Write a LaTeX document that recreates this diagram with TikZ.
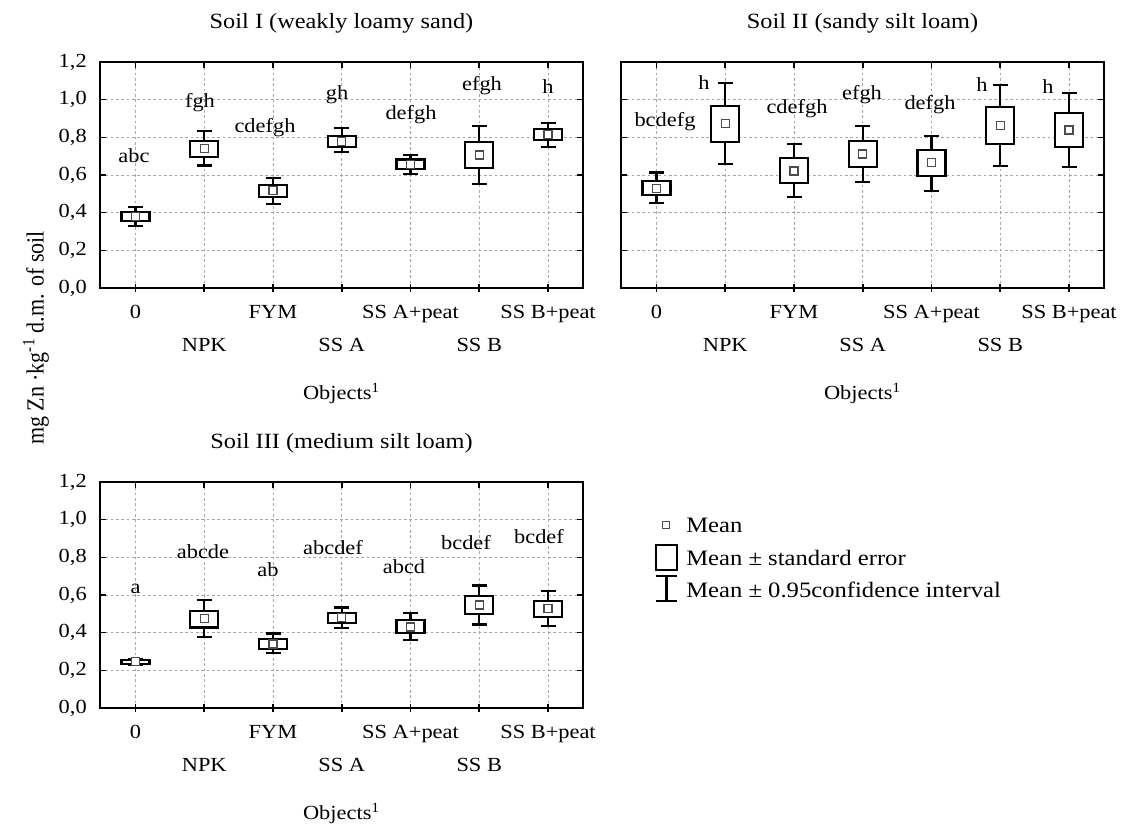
\documentclass[tikz,border=0pt]{standalone}
\usepackage{fontspec}
\setmainfont[FakeStretch=1.12]{Liberation Serif}
\newfontfamily\plainserif{Liberation Serif}
\tikzset{
  every node/.style={font=\fontsize{15}{18}\selectfont, inner sep=0pt},
  gridline/.style={draw=black!35, line width=0.5pt, dash pattern=on 2pt off 2pt},
  frameline/.style={draw=black, line width=1.6pt},
  tickline/.style={draw=black, line width=1.2pt},
  whisk/.style={draw=black, line width=1.7pt},
  boxline/.style={draw=black, line width=1.7pt, fill=white},
  meanmark/.style={draw=black!70, line width=0.9pt, fill=white},
  lettr/.style={anchor=base},
  xlab/.style={anchor=base},
  ylab/.style={anchor=east},
  ptitle/.style={anchor=base, font=\fontsize{16.3}{19}\selectfont},
  legtext/.style={anchor=west, font=\fontsize{16.5}{20}\selectfont},
}
\newcommand\panelframe[3]{% #1 left, #2 top, #3 show y labels (1/0)
  \foreach \i in {0,...,6} {
    \draw[gridline] ({#1+35.5+68.75*\i},#2) -- ({#1+35.5+68.75*\i},{#2+226});
    \draw[tickline] ({#1+35.5+68.75*\i},#2) -- ({#1+35.5+68.75*\i},{#2+6});
    \draw[tickline] ({#1+35.5+68.75*\i},{#2+226-4}) -- ({#1+35.5+68.75*\i},{#2+226+4});
  }
  \foreach \v in {1,...,5} {
    \draw[gridline] (#1,{#2+226-\v*37.667}) -- ({#1+483},{#2+226-\v*37.667});
    \draw[tickline] (#1,{#2+226-\v*37.667}) -- ({#1+6},{#2+226-\v*37.667});
    \draw[tickline] ({#1+483},{#2+226-\v*37.667}) -- ({#1+483-6},{#2+226-\v*37.667});
  }
  \draw[frameline] (#1,#2) rectangle ({#1+483},{#2+226});
  \ifnum#3=1
    \foreach \v/\t in {0/{0,0},1/{0,2},2/{0,4},3/{0,6},4/{0,8},5/{1,0},6/{1,2}}
      \node[ylab] at ({#1-13},{#2+226-\v*37.667}) {\t};
  \fi
}
% #1 base y (value 0), #2 x, #3 mean, #4 se lo, #5 se hi, #6 ci lo, #7 ci hi
\newcommand\bp[7]{%
  \draw[whisk] (#2,{#1-#5*188.33}) -- (#2,{#1-#7*188.33});
  \draw[whisk] ({#2-7.5},{#1-#7*188.33}) -- ({#2+7.5},{#1-#7*188.33});
  \draw[whisk] (#2,{#1-#4*188.33}) -- (#2,{#1-#6*188.33});
  \draw[whisk] ({#2-7.5},{#1-#6*188.33}) -- ({#2+7.5},{#1-#6*188.33});
  \draw[boxline] ({#2-14},{#1-#4*188.33}) rectangle ({#2+14},{#1-#5*188.33});
  \draw[meanmark] ({#2-4},{#1-#3*188.33-4}) rectangle ({#2+4},{#1-#3*188.33+4});
}
\newcommand\xlabels[3]{% #1 left, #2 top, #3 name prefix
  \node[xlab] (#3x0) at ({#1+35.5},{#2+256}) {0};
  \node[xlab] (#3x1) at ({#1+35.5+68.75},{#2+289}) {NPK};
  \node[xlab] (#3x2) at ({#1+35.5+2*68.75},{#2+256}) {FYM};
  \node[xlab] (#3x3) at ({#1+35.5+3*68.75},{#2+289}) {SS A};
  \node[xlab] (#3x4) at ({#1+35.5+4*68.75},{#2+256}) {SS A+peat};
  \node[xlab] (#3x5) at ({#1+35.5+5*68.75},{#2+289}) {SS B};
  \node[xlab] (#3x6) at ({#1+35.5+6*68.75},{#2+256}) {SS B+peat};
  \node[xlab] (#3obj) at ({#1+241.5},{#2+337}) {Objects\textsuperscript{1}};
}
\begin{document}
\begin{tikzpicture}[x=0.75pt,y=-0.75pt]
\useasboundingbox (0,0) rectangle (1128,829);

% ---------- Panel I ----------
\panelframe{100}{62}{1}
\node[ptitle] (t1) at (341.5,28) {Soil I (weakly loamy sand)};
\bp{288}{135.5}{.380}{.357}{.402}{.329}{.432}
\bp{288}{204.25}{.740}{.697}{.782}{.650}{.834}
\bp{288}{273}{.517}{.485}{.547}{.448}{.586}
\bp{288}{341.75}{.780}{.750}{.809}{.721}{.848}
\bp{288}{410.5}{.657}{.632}{.683}{.605}{.706}
\bp{288}{479.25}{.706}{.636}{.777}{.551}{.860}
\bp{288}{548}{.815}{.786}{.844}{.750}{.875}
\node[lettr] (l1a) at (134,162) {abc};
\node[lettr] (l1b) at (200,107) {fgh};
\node[lettr] (l1c) at (265,132) {cdefgh};
\node[lettr] (l1d) at (337,99) {gh};
\node[lettr] (l1e) at (411,119) {defgh};
\node[lettr] (l1f) at (482,90) {efgh};
\node[lettr] (l1g) at (548,93) {h};
\xlabels{100}{62}{pa}

% ---------- Panel II ----------
\panelframe{621}{62}{0}
\node[ptitle] (t2) at (862.5,28) {Soil II (sandy silt loam)};
\bp{288}{656.5}{.530}{.494}{.568}{.450}{.614}
\bp{288}{725.25}{.875}{.774}{.968}{.657}{1.087}
\bp{288}{794}{.621}{.559}{.689}{.482}{.763}
\bp{288}{862.75}{.712}{.644}{.782}{.563}{.860}
\bp{288}{931.5}{.667}{.596}{.733}{.517}{.809}
\bp{288}{1000.25}{.862}{.765}{.960}{.648}{1.078}
\bp{288}{1069}{.839}{.750}{.931}{.641}{1.037}
\node[lettr] (l2a) at (665,126) {bcdefg};
\node[lettr] (l2b) at (704,89) {h};
\node[lettr] (l2c) at (797,113) {cdefgh};
\node[lettr] (l2d) at (862,99) {efgh};
\node[lettr] (l2e) at (930,109) {defgh};
\node[lettr] (l2f) at (982,91) {h};
\node[lettr] (l2g) at (1048,93) {h};
\xlabels{621}{62}{pb}

% ---------- Panel III ----------
\panelframe{100}{482}{1}
\node[ptitle] (t3) at (341.5,448) {Soil III (medium silt loam)};
\bp{708}{135.5}{.245}{.234}{.256}{.230}{.260}
\bp{708}{204.25}{.476}{.428}{.517}{.377}{.572}
\bp{708}{273}{.340}{.315}{.366}{.294}{.395}
\bp{708}{341.75}{.480}{.453}{.506}{.423}{.533}
\bp{708}{410.5}{.430}{.397}{.467}{.361}{.506}
\bp{708}{479.25}{.547}{.499}{.595}{.444}{.650}
\bp{708}{548}{.527}{.485}{.570}{.435}{.621}
\node[lettr] (l3a) at (135.5,593) {a};
\node[lettr] (l3b) at (203,558) {abcde};
\node[lettr] (l3c) at (268,576) {ab};
\node[lettr] (l3d) at (333,554) {abcdef};
\node[lettr] (l3e) at (404,573) {abcd};
\node[lettr] (l3f) at (466,549) {bcdef};
\node[lettr] (l3g) at (539,543) {bcdef};
\xlabels{100}{482}{pc}

% ---------- Y axis title ----------
\node[rotate=90, yscale=1.12, font=\plainserif\fontsize{16.5}{20}\selectfont] (yt) at (36,338)
  {mg Zn \textperiodcentered kg\textsuperscript{-1} d.m. of soil};

% ---------- Legend ----------
\draw[meanmark] (662.5,521.5) rectangle (669.5,528.5);
\node[legtext] (lg1) at (686,525) {Mean};
\draw[boxline] (656,545) rectangle (677,570);
\node[legtext] (lg2) at (686,558) {Mean \textpm{} standard error};
\draw[whisk] (656,576) -- (677,576) (666.5,576) -- (666.5,601) (656,601) -- (677,601);
\node[legtext] (lg3) at (686,590) {Mean \textpm{} 0.95confidence interval};
\end{tikzpicture}
\end{document}
